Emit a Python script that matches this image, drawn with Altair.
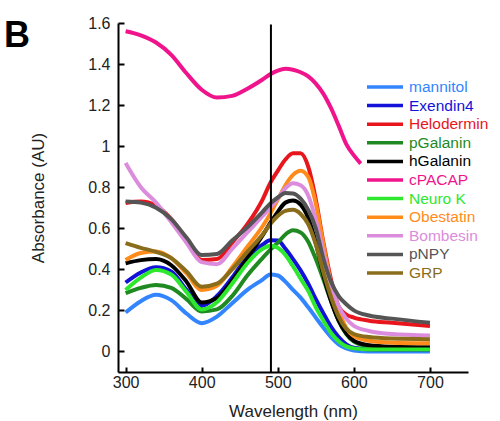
import altair as alt
import pandas as pd

# ---- data ----
wavelengths = [300, 320, 340, 360, 380, 400, 420, 440, 460, 480, 490, 500, 510,
               520, 530, 540, 550, 560, 570, 580, 590, 600, 620, 650, 700]

mannitol = [0.19, 0.245, 0.276, 0.25, 0.185, 0.138, 0.17, 0.235, 0.30, 0.35, 0.375, 0.37, 0.34,
            0.30, 0.262, 0.215, 0.165, 0.115, 0.07, 0.035, 0.015, 0.005, 0.0, 0.0, 0.0]
exendin4 = [0.336, 0.385, 0.41, 0.39, 0.30, 0.222, 0.27, 0.36, 0.46, 0.52, 0.542, 0.54, 0.50,
            0.45, 0.395, 0.33, 0.255, 0.185, 0.12, 0.07, 0.035, 0.018, 0.01, 0.008, 0.008]
helodermin = [0.723, 0.73, 0.71, 0.645, 0.545, 0.445, 0.45, 0.53, 0.62, 0.74, 0.82, 0.88, 0.935,
              0.965, 0.965, 0.90, 0.74, 0.53, 0.35, 0.22, 0.18, 0.165, 0.15, 0.14, 0.124]
pgalanin = [0.284, 0.31, 0.324, 0.31, 0.255, 0.195, 0.205, 0.27, 0.37, 0.455, 0.495, 0.53, 0.57,
            0.59, 0.58, 0.535, 0.45, 0.35, 0.245, 0.15, 0.085, 0.048, 0.025, 0.018, 0.015]
hgalanin = [0.43, 0.445, 0.45, 0.42, 0.34, 0.238, 0.26, 0.345, 0.455, 0.565, 0.625, 0.68, 0.725,
            0.735, 0.715, 0.65, 0.53, 0.37, 0.245, 0.15, 0.088, 0.052, 0.03, 0.023, 0.02]
neurok = [0.30, 0.36, 0.397, 0.375, 0.29, 0.205, 0.24, 0.33, 0.43, 0.50, 0.515, 0.505, 0.47,
          0.415, 0.355, 0.295, 0.215, 0.15, 0.09, 0.05, 0.025, 0.015, 0.01, 0.01, 0.01]
obestatin = [0.446, 0.48, 0.487, 0.455, 0.38, 0.30, 0.32, 0.41, 0.51, 0.61, 0.67, 0.74, 0.81,
             0.86, 0.88, 0.85, 0.72, 0.52, 0.33, 0.20, 0.115, 0.075, 0.052, 0.043, 0.04]
bombesin = [0.918, 0.80, 0.725, 0.63, 0.53, 0.435, 0.425, 0.50, 0.58, 0.66, 0.70, 0.745, 0.795,
            0.82, 0.81, 0.76, 0.64, 0.48, 0.33, 0.22, 0.16, 0.125, 0.10, 0.085, 0.078]
pnpy = [0.731, 0.725, 0.70, 0.645, 0.555, 0.47, 0.475, 0.54, 0.605, 0.68, 0.72, 0.75, 0.772,
        0.77, 0.745, 0.69, 0.60, 0.45, 0.34, 0.27, 0.23, 0.20, 0.175, 0.16, 0.14]
grp = [0.528, 0.505, 0.485, 0.455, 0.39, 0.315, 0.33, 0.40, 0.485, 0.57, 0.62, 0.66, 0.685,
       0.69, 0.67, 0.62, 0.52, 0.385, 0.265, 0.17, 0.11, 0.085, 0.07, 0.063, 0.06]

cpacap_wavelengths = [300, 320, 340, 360, 380, 400, 420, 440, 460, 480, 490, 500, 510,
                      520, 530, 540, 550, 560, 570, 580, 590, 600, 609]
cpacap = [1.56, 1.54, 1.505, 1.445, 1.355, 1.275, 1.237, 1.245, 1.28, 1.325, 1.35, 1.368, 1.377,
          1.372, 1.36, 1.34, 1.305, 1.255, 1.185, 1.10, 1.01, 0.955, 0.915]

series_names = ["mannitol", "Exendin4", "Helodermin", "pGalanin", "hGalanin", "cPACAP",
                "Neuro K", "Obestatin", "Bombesin", "pNPY", "GRP"]
series_colors = ["#3385ff", "#1212d8", "#e8161c", "#1f8a22", "#000000", "#f0148c",
                 "#2ee82e", "#ff8c1a", "#dc8cdc", "#555555", "#8a6d1a"]
series_values = [mannitol, exendin4, helodermin, pgalanin, hgalanin, cpacap,
                 neurok, obestatin, bombesin, pnpy, grp]

marker_wavelength = [491]
marker_top = [1.593]
marker_bottom = [-0.1]

x_ticks = [300, 400, 500, 600, 700]
y_ticks = [0, 0.2, 0.4, 0.6, 0.8, 1, 1.2, 1.4, 1.6]
panel_label = ["B"]

# ---- build table ----
rows = []
for i, (name, vals) in enumerate(zip(series_names, series_values)):
    wls = cpacap_wavelengths if name == "cPACAP" else wavelengths
    for w, v in zip(wls, vals):
        rows.append({"series": name, "wl": w, "absorbance": v, "k": i})
df = pd.DataFrame(rows)

FONT = "Liberation Sans"
x_scale = alt.Scale(domain=[290, 750], nice=False, zero=False)
y_scale = alt.Scale(domain=[-0.1, 1.6], nice=False, zero=False)

lines = alt.Chart(df).mark_line(strokeWidth=4, interpolate="monotone").encode(
    x=alt.X("wl:Q", scale=x_scale, axis=alt.Axis(
        title="Wavelength (nm)", values=x_ticks, format="d", grid=False,
        tickSize={"expr": "-5"}, tickWidth=2, tickColor="black",
        domainColor="black", domainWidth=2,
        labelFont=FONT, labelFontSize=16, labelColor="#222222", labelPadding=7,
        titleFont=FONT, titleFontSize=17, titleFontWeight="normal",
        titleColor="#222222", titlePadding=13)),
    y=alt.Y("absorbance:Q", scale=y_scale, axis=alt.Axis(
        title="Absorbance (AU)", values=y_ticks, format="~g", grid=False,
        tickSize={"expr": "-6"}, tickWidth=2, tickColor="black",
        domainColor="black", domainWidth=2,
        labelFont=FONT, labelFontSize=16, labelColor="#222222", labelPadding=14,
        titleFont=FONT, titleFontSize=17, titleFontWeight="normal",
        titleColor="#222222", titlePadding=40)),
    color=alt.Color("series:N",
                    scale=alt.Scale(domain=series_names, range=series_colors),
                    sort=series_names,
                    legend=alt.Legend(
                        title=None, orient="none", legendX=247, legendY=56,
                        symbolType="stroke", symbolSize=1296, symbolStrokeWidth=3.5,
                        clipHeight=16, rowPadding=1.6, padding=0,
                        labelFont=FONT, labelFontSize=15.5, labelOffset=4,
                        labelLimit=200,
                        labelColor={"expr": "scale('color', datum.value)"})),
    order=alt.Order("wl:Q"),
)

rule_df = pd.DataFrame({"wl": marker_wavelength, "top": marker_top, "bottom": marker_bottom})
rule = alt.Chart(rule_df).mark_rule(color="black", strokeWidth=2).encode(
    x=alt.X("wl:Q", scale=x_scale),
    y=alt.Y("top:Q", scale=y_scale),
    y2="bottom:Q",
)

label = alt.Chart(pd.DataFrame({"label": panel_label})).mark_text(
    font=FONT, fontSize=36, fontWeight="bold", color="black",
    align="left", baseline="alphabetic",
).encode(text="label:N", x=alt.value(-114), y=alt.value(24))

chart = alt.layer(lines, rule, label).properties(
    width=350, height=349,
    autosize=alt.AutoSizeParams(type="none"),
    padding={"left": 118, "top": 23, "right": 32, "bottom": 49},
).configure_view(stroke=None)

chart.save("out.html", embed_options={"renderer": "svg", "actions": False})
